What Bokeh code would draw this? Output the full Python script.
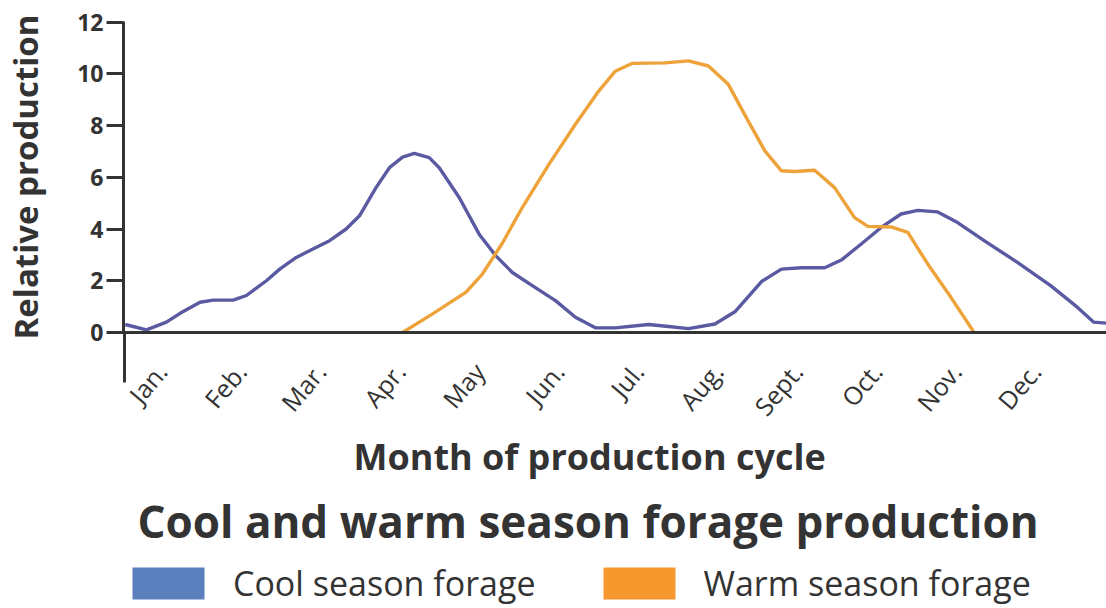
from bokeh.plotting import figure
from bokeh.layouts import column
from bokeh.models import FixedTicker, Range1d, Legend, LegendItem, Title
from bokeh.embed import file_html
from bokeh.resources import INLINE

# ---------------- data ----------------
months = ["Jan.", "Feb.", "Mar.", "Apr.", "May", "Jun.", "Jul.", "Aug.",
          "Sept.", "Oct.", "Nov.", "Dec."]
month_pos = list(range(12))
y_ticks = [0, 2, 4, 6, 8, 10, 12]

cool_x = [-0.455, -0.188, 0.063, 0.235, 0.486, 0.652, 0.903, 1.070, 1.321,
          1.489, 1.698, 1.907, 2.117, 2.325, 2.493, 2.701, 2.870, 3.036,
          3.183, 3.371, 3.497, 3.748, 3.999, 4.207, 4.417, 4.668, 4.960,
          5.211, 5.462, 5.713, 6.132, 6.383, 6.634, 6.967, 7.218, 7.553,
          7.804, 8.055, 8.348, 8.557, 8.808, 9.059, 9.310, 9.520, 9.770,
          10.021, 10.355, 10.774, 11.192, 11.527, 11.735, 11.895]
cool_y = [0.31, 0.10, 0.40, 0.74, 1.17, 1.25, 1.25, 1.43, 2.00,
          2.45, 2.90, 3.23, 3.55, 4.00, 4.51, 5.60, 6.37, 6.78,
          6.92, 6.76, 6.37, 5.22, 3.80, 2.97, 2.32, 1.81, 1.23,
          0.59, 0.18, 0.18, 0.31, 0.23, 0.15, 0.33, 0.80, 1.97,
          2.45, 2.50, 2.50, 2.80, 3.42, 4.06, 4.58, 4.72, 4.66,
          4.25, 3.55, 2.71, 1.81, 0.98, 0.40, 0.36]

warm_x = [3.036, 3.413, 3.831, 4.040, 4.291, 4.542, 4.877, 5.211, 5.504,
          5.713, 5.922, 6.340, 6.634, 6.885, 7.135, 7.386, 7.595, 7.804,
          7.971, 8.222, 8.473, 8.724, 8.892, 9.184, 9.394, 9.645, 9.937,
          10.229]
warm_y = [0.00, 0.72, 1.55, 2.26, 3.45, 4.83, 6.50, 8.05, 9.33,
          10.10, 10.40, 10.42, 10.50, 10.30, 9.59, 8.17, 7.02, 6.25,
          6.22, 6.27, 5.60, 4.44, 4.10, 4.08, 3.87, 2.65, 1.36,
          0.00]

series_names = ["Cool season forage", "Warm season forage"]
title_text = "Cool and warm season forage production"
x_title = "Month of production cycle"
y_title = "Relative production"

# ---------------- styles ----------------
FONT = "Open Sans"
TXT = "#333333"
COOL_LINE = "#5a5aa2"
WARM_LINE = "#eea23a"
COOL_SWATCH = "#5b80bd"
WARM_SWATCH = "#f7982f"

p = figure(width=1106, height=488,
           x_range=Range1d(-0.477, 11.895), y_range=Range1d(0, 12.02),
           output_backend="svg", toolbar_location=None,
           min_border_left=120, min_border_right=0, min_border_top=21,
           min_border_bottom=156)
p.outline_line_color = None
p.xgrid.grid_line_color = None
p.ygrid.grid_line_color = None

# lines
p.line(cool_x, cool_y, line_color=COOL_LINE, line_width=3.4, line_join="round")
p.line(warm_x, warm_y, line_color=WARM_LINE, line_width=3.4, line_join="round")

# y axis
ya = p.yaxis[0]
ya.ticker = FixedTicker(ticks=y_ticks)
ya.axis_line_width = 3
ya.axis_line_color = TXT
ya.major_tick_out = 17
ya.major_tick_in = 0
ya.major_tick_line_width = 3
ya.major_tick_line_color = TXT
ya.minor_tick_line_color = None
ya.major_label_text_font = FONT
ya.major_label_text_font_style = "bold"
ya.major_label_text_font_size = "23px"
ya.major_label_text_color = TXT
ya.major_label_standoff = 3
ya.axis_label = y_title
ya.axis_label_text_font = FONT
ya.axis_label_text_font_style = "bold"
ya.axis_label_text_font_size = "33px"
ya.axis_label_text_color = TXT
ya.axis_label_standoff = 26

# x axis
xa = p.xaxis[0]
xa.ticker = FixedTicker(ticks=month_pos, minor_ticks=[-0.47])
xa.major_label_overrides = {i: m for i, m in zip(month_pos, months)}
xa.major_label_orientation = 0.87
xa.axis_line_width = 3
xa.axis_line_color = TXT
xa.major_tick_line_color = None
xa.major_tick_out = 0
xa.major_tick_in = 0
xa.minor_tick_out = 50
xa.minor_tick_in = 0
xa.minor_tick_line_width = 3
xa.minor_tick_line_color = TXT
xa.major_label_text_font = FONT
xa.major_label_text_font_size = "25px"
xa.major_label_text_color = TXT
xa.major_label_standoff = -16

# x axis title (as a below title so it can sit left of centre like the original)
xt = Title(text=x_title, text_font=FONT, text_font_style="bold",
           text_font_size="36px", text_color=TXT, align="left", offset=230,
           standoff=-14)
p.add_layout(xt, "below")

# ---------- title + legend strip ----------
p2 = figure(width=1106, height=120, title=title_text,
            x_range=Range1d(0, 1), y_range=Range1d(0, 1),
            output_backend="svg", toolbar_location=None,
            x_axis_location=None, y_axis_location=None,
            min_border_left=120, min_border_right=0, min_border_top=0,
            min_border_bottom=0)
p2.outline_line_color = None
p2.xgrid.grid_line_color = None
p2.ygrid.grid_line_color = None
p2.title.text_font = FONT
p2.title.text_font_style = "bold"
p2.title.text_font_size = "44px"
p2.title.text_color = TXT
p2.title.align = "left"
p2.title.offset = 14
p2.title.standoff = 0

# hidden proxies that only give the legend its colour swatches
sw_cool = p2.quad(left=[min(cool_x)], right=[max(cool_x)], bottom=[0], top=[max(cool_y)],
                  fill_color=COOL_SWATCH, line_color=None, visible=False)
sw_warm = p2.quad(left=[min(warm_x)], right=[max(warm_x)], bottom=[0], top=[max(warm_y)],
                  fill_color=WARM_SWATCH, line_color=None, visible=False)

legend = Legend(items=[LegendItem(label=series_names[0], renderers=[sw_cool]),
                       LegendItem(label=series_names[1], renderers=[sw_warm])],
                orientation="horizontal", location=(0, 2),
                glyph_width=90, glyph_height=40, label_standoff=20, spacing=58,
                label_text_font=FONT, label_text_font_size="34px",
                label_text_color=TXT, border_line_color=None,
                background_fill_alpha=0, padding=0, margin=0,
                inactive_fill_alpha=0)
p2.add_layout(legend, "center")

layout = column(p, p2, spacing=0)
open("out.html", "w").write(file_html(layout, INLINE))
